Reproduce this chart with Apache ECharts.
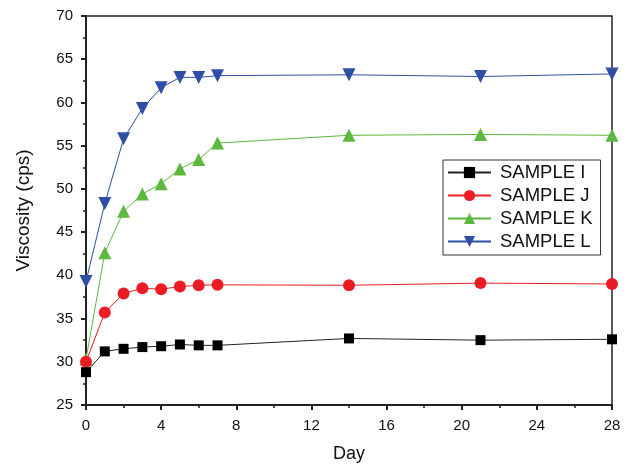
<!DOCTYPE html>
<html><head><meta charset="utf-8">
<script src="https://cdn.jsdelivr.net/npm/echarts@6/dist/echarts.min.js"></script>
<style>html,body{margin:0;padding:0;background:#fff}#c{width:631px;height:464px}</style>
</head><body><div id="c"></div>
<script>
var days = [0, 1, 2, 3, 4, 5, 6, 7, 14, 21, 28];
var sampleI = [28.8, 31.2, 31.5, 31.7, 31.8, 32.0, 31.9, 31.9, 32.7, 32.5, 32.6];
var sampleJ = [30.0, 35.7, 37.9, 38.5, 38.4, 38.7, 38.85, 38.9, 38.85, 39.1, 39.0];
var sampleK = [30.3, 42.6, 47.4, 49.4, 50.6, 52.3, 53.4, 55.3, 56.2, 56.3, 56.2];
var sampleL = [39.3, 48.3, 55.8, 59.3, 61.7, 62.9, 62.9, 63.1, 63.2, 63.0, 63.3];
var names = ['SAMPLE I', 'SAMPLE J', 'SAMPLE K', 'SAMPLE L'];

function pairs(v){ return days.map(function(d,i){ return [d, v[i]]; }); }
var font = 'Liberation Sans, Arial, sans-serif';
var chart = echarts.init(document.getElementById('c'));
chart.setOption({
  animation: false,
  grid: {left: 86, right: 19, top: 16, bottom: 59, outerBoundsMode: 'none', containLabel: false,
         show: true, borderColor: '#222', borderWidth: 1.5, backgroundColor: 'transparent'},
  legend: {
    orient: 'vertical', left: 443, top: 160, width: 154,
    padding: [3, 8, 4, 4], itemGap: 4,
    borderColor: '#333', borderWidth: 1, backgroundColor: '#fff',
    itemWidth: 43, itemHeight: 14,
    textStyle: {fontFamily: font, fontSize: 18.5, color: '#111', padding: [0, 0, 0, 4]},
    data: names
  },
  xAxis: {
    type: 'value', min: 0, max: 28, interval: 4,
    name: 'Day', nameLocation: 'middle', nameGap: 40,
    nameTextStyle: {fontFamily: font, fontSize: 18, color: '#111'},
    axisLine: {onZero: false, lineStyle: {color: '#222', width: 2}},
    axisTick: {inside: false, length: 5, lineStyle: {color: '#222', width: 2}},
    minorTick: {show: true, splitNumber: 2, length: 3, lineStyle: {color: '#222', width: 1.5}},
    axisLabel: {fontFamily: font, fontSize: 15, color: '#111', margin: 13},
    splitLine: {show: false}
  },
  yAxis: {
    type: 'value', min: 25, max: 70, interval: 5,
    name: 'Viscosity (cps)', nameLocation: 'middle', nameGap: 53,
    nameTextStyle: {fontFamily: font, fontSize: 19, color: '#111'},
    axisLine: {show: true, onZero: false, lineStyle: {color: '#222', width: 2}},
    axisTick: {show: true, inside: false, length: 5, lineStyle: {color: '#222', width: 2}},
    minorTick: {show: true, splitNumber: 2, length: 3, lineStyle: {color: '#222', width: 1.5}},
    axisLabel: {fontFamily: font, fontSize: 15, color: '#111', margin: 13},
    splitLine: {show: false}
  },
  series: [
    {name: names[0], type: 'line', data: pairs(sampleI), symbol: 'rect', symbolSize: 10,
     itemStyle: {color: '#000'}, lineStyle: {color: '#222', width: 1}, z: 4},
    {name: names[1], type: 'line', data: pairs(sampleJ), symbol: 'circle', symbolSize: 12,
     itemStyle: {color: '#ec1c24'}, lineStyle: {color: '#ec1c24', width: 1}, z: 3},
    {name: names[2], type: 'line', data: pairs(sampleK), symbol: 'triangle', symbolSize: 13,
     itemStyle: {color: '#5cb83e'}, lineStyle: {color: '#5cb83e', width: 1}, z: 2},
    {name: names[3], type: 'line', data: pairs(sampleL), symbol: 'triangle', symbolRotate: 180, symbolSize: 13,
     itemStyle: {color: '#2f4fa6'}, lineStyle: {color: '#2f4fa6', width: 1}, z: 1}
  ]
});
</script></body></html>
